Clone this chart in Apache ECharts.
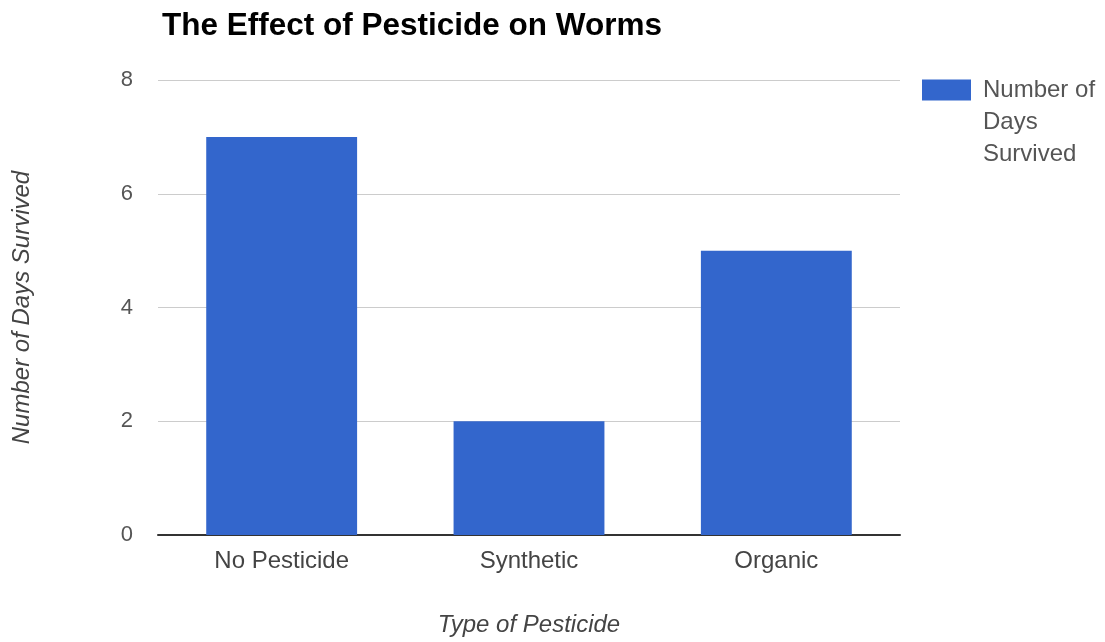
<!DOCTYPE html>
<html>
<head>
<meta charset="utf-8">
<script src="https://cdn.jsdelivr.net/npm/echarts@6/dist/echarts.min.js"></script>
<style>
  html, body { margin: 0; padding: 0; background: #fff; }
  #chart { width: 1105px; height: 642px; }
</style>
</head>
<body>
<div id="chart"></div>
<script>
// Days each group of worms survived, by pesticide treatment
const categories = ['No Pesticide', 'Synthetic', 'Organic'];
const daysSurvived = [7, 2, 5];
const seriesName = 'Number of Days Survived';
const legendLines = ['Number of', 'Days', 'Survived'];

const FONT = '"Liberation Sans", Arial, sans-serif';

const chart = echarts.init(document.getElementById('chart'));
chart.setOption({
  animation: false,
  backgroundColor: '#ffffff',
  title: {
    text: 'The Effect of Pesticide on Worms',
    left: 162,
    top: 8,
    padding: 0,
    textStyle: { fontFamily: FONT, fontSize: 31.5, fontWeight: 'bold', color: '#000', lineHeight: 36 }
  },
  legend: {
    orient: 'vertical',
    left: 922,
    top: 10,
    padding: 0,
    itemWidth: 49,
    itemHeight: 21,
    itemGap: 10,
    icon: 'rect',
    align: 'left',
    // two blank leading lines keep the first text line level with the swatch
    formatter: () => '\n\n' + legendLines.join('\n'),
    textStyle: { fontFamily: FONT, fontSize: 24, color: '#555', lineHeight: 32, padding: [0, 0, 0, 7], verticalAlign: 'middle' },
    data: [seriesName]
  },
  grid: { left: 158, right: 205, top: 80, bottom: 106, containLabel: false },
  xAxis: {
    type: 'category',
    data: categories,
    name: 'Type of Pesticide',
    nameLocation: 'middle',
    nameGap: 78,
    nameTextStyle: { fontFamily: FONT, fontSize: 24, fontStyle: 'italic', color: '#444' },
    axisLine: { lineStyle: { color: '#333', width: 2 } },
    axisTick: { show: false },
    axisLabel: { fontFamily: FONT, fontSize: 24, color: '#444', margin: 14 }
  },
  yAxis: {
    type: 'value',
    min: 0,
    max: 8,
    interval: 2,
    name: 'Number of Days Survived',
    nameLocation: 'middle',
    nameGap: 124,
    nameTextStyle: { fontFamily: FONT, fontSize: 24, fontStyle: 'italic', color: '#444' },
    axisLine: { show: false },
    axisTick: { show: false },
    axisLabel: { fontFamily: FONT, fontSize: 22, color: '#555', margin: 25 },
    splitLine: { lineStyle: { color: '#cccccc', width: 1 } }
  },
  series: [{
    name: seriesName,
    type: 'bar',
    data: daysSurvived,
    barWidth: '61%',
    itemStyle: { color: '#3366cc' }
  }]
});
</script>
</body>
</html>
